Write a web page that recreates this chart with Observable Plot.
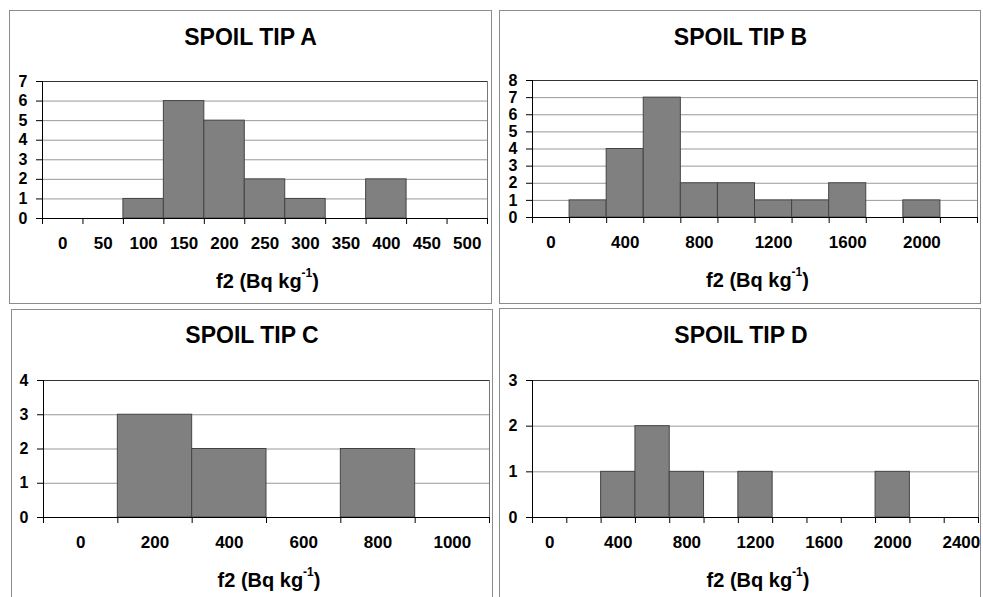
<!DOCTYPE html>
<html>
<head>
<meta charset="utf-8">
<script src="https://cdn.jsdelivr.net/npm/d3@7"></script>
<script src="https://cdn.jsdelivr.net/npm/@observablehq/plot@0.6"></script>
<style>
  html, body { margin: 0; padding: 0; background: #fff; }
  #root { position: relative; width: 983px; height: 597px; overflow: hidden; font-family: "Liberation Sans", Arial, sans-serif; }
  .box { position: absolute; border: 1px solid #8c8c8c; box-sizing: border-box; background: #fff; }
  .title { position: absolute; font-weight: bold; font-size: 23px; line-height: 23px; text-align: center; color: #000; white-space: nowrap; }
  .xtitle { position: absolute; font-weight: bold; font-size: 20px; line-height: 20px; text-align: center; color: #000; white-space: nowrap; }
  .xtitle sup { font-size: 12px; line-height: 0; position: relative; top: -3px; vertical-align: super; }
  svg.chart { position: absolute; }
  svg.chart [aria-label="y-axis tick label"] { font-size: 16px; font-weight: bold; }
  svg.chart [aria-label="y-axis tick label"] text { font-size: 16px; font-weight: bold; }
</style>
</head>
<body>
<div id="root"></div>
<script>
// ---- data ----
const titles = ["SPOIL TIP A", "SPOIL TIP B", "SPOIL TIP C", "SPOIL TIP D"];

const catsA = [0, 50, 100, 150, 200, 250, 300, 350, 400, 450, 500];
const countsA = [0, 0, 1, 6, 5, 2, 1, 0, 2, 0, 0];
const labelsA = [0, 50, 100, 150, 200, 250, 300, 350, 400, 450, 500];
const yTicksA = [0, 1, 2, 3, 4, 5, 6, 7];

const catsB = [0, 200, 400, 600, 800, 1000, 1200, 1400, 1600, 1800, 2000, 2200];
const countsB = [0, 1, 4, 7, 2, 2, 1, 1, 2, 0, 1, 0];
const labelsB = [0, 400, 800, 1200, 1600, 2000];
const yTicksB = [0, 1, 2, 3, 4, 5, 6, 7, 8];

const catsC = [0, 200, 400, 600, 800, 1000];
const countsC = [0, 3, 2, 0, 2, 0];
const labelsC = [0, 200, 400, 600, 800, 1000];
const yTicksC = [0, 1, 2, 3, 4];

const catsD = [0, 200, 400, 600, 800, 1000, 1200, 1400, 1600, 1800, 2000, 2200, 2400];
const countsD = [0, 0, 1, 2, 1, 0, 1, 0, 0, 0, 1, 0, 0];
const labelsD = [0, 400, 800, 1200, 1600, 2000, 2400];
const yTicksD = [0, 1, 2, 3];

const xTitleMain = "f2 (Bq kg";
const xTitleSup = "-1";

// ---- layout (pixel geometry only) ----
const layout = [
  { box: [9, 10, 492, 304], plot: [42, 81, 487, 218], titleY: 37 },
  { box: [499, 10, 981, 304], plot: [532, 80, 977, 217], titleY: 37 },
  { box: [11, 309, 493, 610], plot: [43, 380, 489, 517], titleY: 335 },
  { box: [499, 308, 981, 610], plot: [532, 380, 978, 517], titleY: 335 }
];

const panels = [
  { cats: catsA, counts: countsA, labels: labelsA, yTicks: yTicksA },
  { cats: catsB, counts: countsB, labels: labelsB, yTicks: yTicksB },
  { cats: catsC, counts: countsC, labels: labelsC, yTicks: yTicksC },
  { cats: catsD, counts: countsD, labels: labelsD, yTicks: yTicksD }
];

const root = document.getElementById("root");

panels.forEach((p, k) => {
  const L = layout[k];
  const [bl, bt, br, bb] = L.box;
  const [pl, pt, pr, pb] = L.plot;

  const box = document.createElement("div");
  box.className = "box";
  box.style.left = bl + "px";
  box.style.top = bt + "px";
  box.style.width = (br - bl) + "px";
  box.style.height = (bb - bt) + "px";
  root.appendChild(box);

  const t = document.createElement("div");
  t.className = "title";
  t.textContent = titles[k];
  const cx = (pl + pr) / 2 - 14;
  t.style.left = (cx - 200) + "px";
  t.style.width = "400px";
  t.style.top = (L.titleY - 11.5) + "px";
  root.appendChild(t);

  const n = p.cats.length;
  const bars = p.cats.map((c, i) => ({ i, cat: c, count: p.counts[i] })).filter(d => d.count > 0);
  const labelData = p.labels.map(v => ({ i: p.cats.indexOf(v), text: String(v) }));
  const yMax = p.yTicks[p.yTicks.length - 1];

  const svgL = bl + 2, svgR = br - 2, svgT = pt - 14, svgB = pb + 46;
  const chart = Plot.plot({
    width: svgR - svgL,
    height: svgB - svgT,
    marginLeft: pl - svgL,
    marginRight: svgR - pr,
    marginTop: pt - svgT,
    marginBottom: svgB - pb,
    style: { background: "none", fontFamily: "'Liberation Sans', Arial, sans-serif", fontSize: "16px", fontWeight: "bold", color: "#000", overflow: "visible" },
    x: { domain: [0, n], ticks: d3.range(n + 1), tickSize: 6, tickFormat: () => "", label: null },
    y: { domain: [0, yMax], ticks: p.yTicks, tickSize: 6, tickPadding: 9, tickFormat: d3.format("d"), label: null },
    marks: [
      Plot.ruleY(p.yTicks.slice(1), { stroke: "#999", strokeWidth: 1 }),
      Plot.rectY(bars, { x1: "i", x2: d => d.i + 1, y1: 0, y2: "count", fill: "#808080", stroke: "#444", strokeWidth: 1 }),
      Plot.ruleY([yMax], { stroke: "#333", strokeWidth: 1 }),
      Plot.ruleX([n], { stroke: "#777", strokeWidth: 1 }),
      Plot.ruleX([0], { stroke: "#000", strokeWidth: 1 }),
      Plot.ruleY([0], { stroke: "#000", strokeWidth: 1 }),
      Plot.text(labelData, { x: d => d.i + 0.5, text: "text", frameAnchor: "bottom", dy: 30, fontSize: 17, fontWeight: "bold", fill: "#000" })
    ]
  });
  chart.classList.add("chart");
  chart.style.left = svgL + "px";
  chart.style.top = svgT + "px";
  root.appendChild(chart);

  const xt = document.createElement("div");
  xt.className = "xtitle";
  xt.appendChild(document.createTextNode(xTitleMain));
  const sup = document.createElement("sup");
  sup.textContent = xTitleSup;
  xt.appendChild(sup);
  xt.appendChild(document.createTextNode(")"));
  const xc = (pl + pr) / 2 + 3;
  xt.style.left = (xc - 150) + "px";
  xt.style.width = "300px";
  xt.style.top = (pb + 63 - 10) + "px";
  root.appendChild(xt);
});
</script>
</body>
</html>
